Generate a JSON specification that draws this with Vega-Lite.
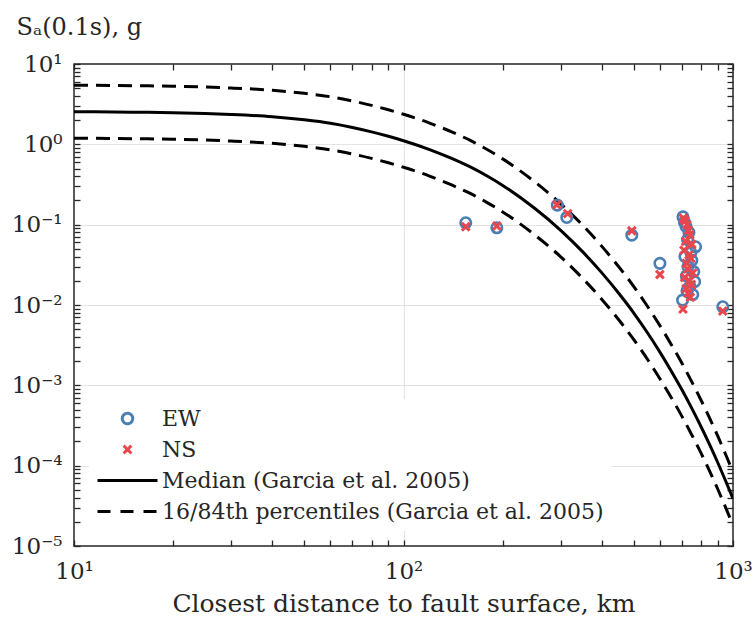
{
  "$schema": "https://vega.github.io/schema/vega-lite/v6.json",
  "width": 659,
  "height": 482,
  "autosize": {"type": "none"},
  "padding": {"left": 74, "top": 64, "right": 21, "bottom": 76},
  "background": "white",
  "config": {
    "view": {"stroke": "#262626", "strokeWidth": 1.5},
    "font": "DejaVu Serif",
    "axis": {"labelFont": "DejaVu Serif", "titleFont": "DejaVu Serif", "labelColor": "#262626", "titleColor": "#262626", "titleFontWeight": "normal", "domain": false, "tickColor": "#262626", "tickWidth": 1.3, "gridColor": "#e3e3e3", "gridWidth": 1.2}
  },
  "datasets": {
    "curves": [
      {"R": 10, "Sa": 2.547, "series": "Median (Garcia et al. 2005)", "curve": "median"},
      {"R": 15, "Sa": 2.515, "series": "Median (Garcia et al. 2005)", "curve": "median"},
      {"R": 20, "Sa": 2.472, "series": "Median (Garcia et al. 2005)", "curve": "median"},
      {"R": 25, "Sa": 2.415, "series": "Median (Garcia et al. 2005)", "curve": "median"},
      {"R": 30, "Sa": 2.35, "series": "Median (Garcia et al. 2005)", "curve": "median"},
      {"R": 40, "Sa": 2.203, "series": "Median (Garcia et al. 2005)", "curve": "median"},
      {"R": 50, "Sa": 2.018, "series": "Median (Garcia et al. 2005)", "curve": "median"},
      {"R": 60, "Sa": 1.828, "series": "Median (Garcia et al. 2005)", "curve": "median"},
      {"R": 70, "Sa": 1.622, "series": "Median (Garcia et al. 2005)", "curve": "median"},
      {"R": 80, "Sa": 1.429, "series": "Median (Garcia et al. 2005)", "curve": "median"},
      {"R": 90, "Sa": 1.259, "series": "Median (Garcia et al. 2005)", "curve": "median"},
      {"R": 100, "Sa": 1.109, "series": "Median (Garcia et al. 2005)", "curve": "median"},
      {"R": 120, "Sa": 0.861, "series": "Median (Garcia et al. 2005)", "curve": "median"},
      {"R": 140, "Sa": 0.668, "series": "Median (Garcia et al. 2005)", "curve": "median"},
      {"R": 160, "Sa": 0.519, "series": "Median (Garcia et al. 2005)", "curve": "median"},
      {"R": 180, "Sa": 0.4, "series": "Median (Garcia et al. 2005)", "curve": "median"},
      {"R": 200, "Sa": 0.308, "series": "Median (Garcia et al. 2005)", "curve": "median"},
      {"R": 250, "Sa": 0.16, "series": "Median (Garcia et al. 2005)", "curve": "median"},
      {"R": 300, "Sa": 0.0851, "series": "Median (Garcia et al. 2005)", "curve": "median"},
      {"R": 350, "Sa": 0.0458, "series": "Median (Garcia et al. 2005)", "curve": "median"},
      {"R": 400, "Sa": 0.0251, "series": "Median (Garcia et al. 2005)", "curve": "median"},
      {"R": 450, "Sa": 0.014, "series": "Median (Garcia et al. 2005)", "curve": "median"},
      {"R": 500, "Sa": 0.00794, "series": "Median (Garcia et al. 2005)", "curve": "median"},
      {"R": 550, "Sa": 0.00451, "series": "Median (Garcia et al. 2005)", "curve": "median"},
      {"R": 600, "Sa": 0.00259, "series": "Median (Garcia et al. 2005)", "curve": "median"},
      {"R": 650, "Sa": 0.0015, "series": "Median (Garcia et al. 2005)", "curve": "median"},
      {"R": 700, "Sa": 0.000879, "series": "Median (Garcia et al. 2005)", "curve": "median"},
      {"R": 750, "Sa": 0.000516, "series": "Median (Garcia et al. 2005)", "curve": "median"},
      {"R": 800, "Sa": 0.000305, "series": "Median (Garcia et al. 2005)", "curve": "median"},
      {"R": 850, "Sa": 0.000181, "series": "Median (Garcia et al. 2005)", "curve": "median"},
      {"R": 900, "Sa": 0.000108, "series": "Median (Garcia et al. 2005)", "curve": "median"},
      {"R": 950, "Sa": 0.0000644, "series": "Median (Garcia et al. 2005)", "curve": "median"},
      {"R": 1000, "Sa": 0.0000389, "series": "Median (Garcia et al. 2005)", "curve": "median"},
      {"R": 10, "Sa": 5.446, "series": "16/84th percentiles (Garcia et al. 2005)", "curve": "p84"},
      {"R": 15, "Sa": 5.377, "series": "16/84th percentiles (Garcia et al. 2005)", "curve": "p84"},
      {"R": 20, "Sa": 5.285, "series": "16/84th percentiles (Garcia et al. 2005)", "curve": "p84"},
      {"R": 25, "Sa": 5.163, "series": "16/84th percentiles (Garcia et al. 2005)", "curve": "p84"},
      {"R": 30, "Sa": 5.024, "series": "16/84th percentiles (Garcia et al. 2005)", "curve": "p84"},
      {"R": 40, "Sa": 4.71, "series": "16/84th percentiles (Garcia et al. 2005)", "curve": "p84"},
      {"R": 50, "Sa": 4.314, "series": "16/84th percentiles (Garcia et al. 2005)", "curve": "p84"},
      {"R": 60, "Sa": 3.908, "series": "16/84th percentiles (Garcia et al. 2005)", "curve": "p84"},
      {"R": 70, "Sa": 3.468, "series": "16/84th percentiles (Garcia et al. 2005)", "curve": "p84"},
      {"R": 80, "Sa": 3.055, "series": "16/84th percentiles (Garcia et al. 2005)", "curve": "p84"},
      {"R": 90, "Sa": 2.692, "series": "16/84th percentiles (Garcia et al. 2005)", "curve": "p84"},
      {"R": 100, "Sa": 2.371, "series": "16/84th percentiles (Garcia et al. 2005)", "curve": "p84"},
      {"R": 120, "Sa": 1.841, "series": "16/84th percentiles (Garcia et al. 2005)", "curve": "p84"},
      {"R": 140, "Sa": 1.428, "series": "16/84th percentiles (Garcia et al. 2005)", "curve": "p84"},
      {"R": 160, "Sa": 1.11, "series": "16/84th percentiles (Garcia et al. 2005)", "curve": "p84"},
      {"R": 180, "Sa": 0.855, "series": "16/84th percentiles (Garcia et al. 2005)", "curve": "p84"},
      {"R": 200, "Sa": 0.659, "series": "16/84th percentiles (Garcia et al. 2005)", "curve": "p84"},
      {"R": 250, "Sa": 0.342, "series": "16/84th percentiles (Garcia et al. 2005)", "curve": "p84"},
      {"R": 300, "Sa": 0.182, "series": "16/84th percentiles (Garcia et al. 2005)", "curve": "p84"},
      {"R": 350, "Sa": 0.0979, "series": "16/84th percentiles (Garcia et al. 2005)", "curve": "p84"},
      {"R": 400, "Sa": 0.0537, "series": "16/84th percentiles (Garcia et al. 2005)", "curve": "p84"},
      {"R": 450, "Sa": 0.0299, "series": "16/84th percentiles (Garcia et al. 2005)", "curve": "p84"},
      {"R": 500, "Sa": 0.01698, "series": "16/84th percentiles (Garcia et al. 2005)", "curve": "p84"},
      {"R": 550, "Sa": 0.00964, "series": "16/84th percentiles (Garcia et al. 2005)", "curve": "p84"},
      {"R": 600, "Sa": 0.00554, "series": "16/84th percentiles (Garcia et al. 2005)", "curve": "p84"},
      {"R": 650, "Sa": 0.00321, "series": "16/84th percentiles (Garcia et al. 2005)", "curve": "p84"},
      {"R": 700, "Sa": 0.001879, "series": "16/84th percentiles (Garcia et al. 2005)", "curve": "p84"},
      {"R": 750, "Sa": 0.001103, "series": "16/84th percentiles (Garcia et al. 2005)", "curve": "p84"},
      {"R": 800, "Sa": 0.000652, "series": "16/84th percentiles (Garcia et al. 2005)", "curve": "p84"},
      {"R": 850, "Sa": 0.000387, "series": "16/84th percentiles (Garcia et al. 2005)", "curve": "p84"},
      {"R": 900, "Sa": 0.000231, "series": "16/84th percentiles (Garcia et al. 2005)", "curve": "p84"},
      {"R": 950, "Sa": 0.0001377, "series": "16/84th percentiles (Garcia et al. 2005)", "curve": "p84"},
      {"R": 1000, "Sa": 0.0000832, "series": "16/84th percentiles (Garcia et al. 2005)", "curve": "p84"},
      {"R": 10, "Sa": 1.191, "series": "16/84th percentiles (Garcia et al. 2005)", "curve": "p16"},
      {"R": 15, "Sa": 1.176, "series": "16/84th percentiles (Garcia et al. 2005)", "curve": "p16"},
      {"R": 20, "Sa": 1.156, "series": "16/84th percentiles (Garcia et al. 2005)", "curve": "p16"},
      {"R": 25, "Sa": 1.13, "series": "16/84th percentiles (Garcia et al. 2005)", "curve": "p16"},
      {"R": 30, "Sa": 1.099, "series": "16/84th percentiles (Garcia et al. 2005)", "curve": "p16"},
      {"R": 40, "Sa": 1.03, "series": "16/84th percentiles (Garcia et al. 2005)", "curve": "p16"},
      {"R": 50, "Sa": 0.944, "series": "16/84th percentiles (Garcia et al. 2005)", "curve": "p16"},
      {"R": 60, "Sa": 0.855, "series": "16/84th percentiles (Garcia et al. 2005)", "curve": "p16"},
      {"R": 70, "Sa": 0.759, "series": "16/84th percentiles (Garcia et al. 2005)", "curve": "p16"},
      {"R": 80, "Sa": 0.668, "series": "16/84th percentiles (Garcia et al. 2005)", "curve": "p16"},
      {"R": 90, "Sa": 0.589, "series": "16/84th percentiles (Garcia et al. 2005)", "curve": "p16"},
      {"R": 100, "Sa": 0.519, "series": "16/84th percentiles (Garcia et al. 2005)", "curve": "p16"},
      {"R": 120, "Sa": 0.403, "series": "16/84th percentiles (Garcia et al. 2005)", "curve": "p16"},
      {"R": 140, "Sa": 0.312, "series": "16/84th percentiles (Garcia et al. 2005)", "curve": "p16"},
      {"R": 160, "Sa": 0.243, "series": "16/84th percentiles (Garcia et al. 2005)", "curve": "p16"},
      {"R": 180, "Sa": 0.187, "series": "16/84th percentiles (Garcia et al. 2005)", "curve": "p16"},
      {"R": 200, "Sa": 0.144, "series": "16/84th percentiles (Garcia et al. 2005)", "curve": "p16"},
      {"R": 250, "Sa": 0.0748, "series": "16/84th percentiles (Garcia et al. 2005)", "curve": "p16"},
      {"R": 300, "Sa": 0.0398, "series": "16/84th percentiles (Garcia et al. 2005)", "curve": "p16"},
      {"R": 350, "Sa": 0.0214, "series": "16/84th percentiles (Garcia et al. 2005)", "curve": "p16"},
      {"R": 400, "Sa": 0.01174, "series": "16/84th percentiles (Garcia et al. 2005)", "curve": "p16"},
      {"R": 450, "Sa": 0.00655, "series": "16/84th percentiles (Garcia et al. 2005)", "curve": "p16"},
      {"R": 500, "Sa": 0.00371, "series": "16/84th percentiles (Garcia et al. 2005)", "curve": "p16"},
      {"R": 550, "Sa": 0.00211, "series": "16/84th percentiles (Garcia et al. 2005)", "curve": "p16"},
      {"R": 600, "Sa": 0.00121, "series": "16/84th percentiles (Garcia et al. 2005)", "curve": "p16"},
      {"R": 650, "Sa": 0.000702, "series": "16/84th percentiles (Garcia et al. 2005)", "curve": "p16"},
      {"R": 700, "Sa": 0.000411, "series": "16/84th percentiles (Garcia et al. 2005)", "curve": "p16"},
      {"R": 750, "Sa": 0.000241, "series": "16/84th percentiles (Garcia et al. 2005)", "curve": "p16"},
      {"R": 800, "Sa": 0.000143, "series": "16/84th percentiles (Garcia et al. 2005)", "curve": "p16"},
      {"R": 850, "Sa": 0.0000847, "series": "16/84th percentiles (Garcia et al. 2005)", "curve": "p16"},
      {"R": 900, "Sa": 0.0000505, "series": "16/84th percentiles (Garcia et al. 2005)", "curve": "p16"},
      {"R": 950, "Sa": 0.0000301, "series": "16/84th percentiles (Garcia et al. 2005)", "curve": "p16"},
      {"R": 1000, "Sa": 0.0000182, "series": "16/84th percentiles (Garcia et al. 2005)", "curve": "p16"}
    ],
    "points": [
      {"R": 154.5, "Sa": 0.1056, "series": "EW"},
      {"R": 192, "Sa": 0.0914, "series": "EW"},
      {"R": 293, "Sa": 0.175, "series": "EW"},
      {"R": 313, "Sa": 0.123, "series": "EW"},
      {"R": 493, "Sa": 0.0741, "series": "EW"},
      {"R": 600, "Sa": 0.033, "series": "EW"},
      {"R": 931, "Sa": 0.0095, "series": "EW"},
      {"R": 705, "Sa": 0.125, "series": "EW"},
      {"R": 712, "Sa": 0.108, "series": "EW"},
      {"R": 720, "Sa": 0.095, "series": "EW"},
      {"R": 735, "Sa": 0.08, "series": "EW"},
      {"R": 770, "Sa": 0.053, "series": "EW"},
      {"R": 728, "Sa": 0.065, "series": "EW"},
      {"R": 745, "Sa": 0.045, "series": "EW"},
      {"R": 715, "Sa": 0.04, "series": "EW"},
      {"R": 750, "Sa": 0.036, "series": "EW"},
      {"R": 730, "Sa": 0.03, "series": "EW"},
      {"R": 760, "Sa": 0.026, "series": "EW"},
      {"R": 722, "Sa": 0.023, "series": "EW"},
      {"R": 765, "Sa": 0.0195, "series": "EW"},
      {"R": 740, "Sa": 0.017, "series": "EW"},
      {"R": 725, "Sa": 0.015, "series": "EW"},
      {"R": 755, "Sa": 0.0135, "series": "EW"},
      {"R": 703, "Sa": 0.0115, "series": "EW"},
      {"R": 154.5, "Sa": 0.0942, "series": "NS"},
      {"R": 192, "Sa": 0.0962, "series": "NS"},
      {"R": 292, "Sa": 0.177, "series": "NS"},
      {"R": 315, "Sa": 0.137, "series": "NS"},
      {"R": 493, "Sa": 0.0839, "series": "NS"},
      {"R": 600, "Sa": 0.024, "series": "NS"},
      {"R": 931, "Sa": 0.0084, "series": "NS"},
      {"R": 707, "Sa": 0.12, "series": "NS"},
      {"R": 716, "Sa": 0.112, "series": "NS"},
      {"R": 725, "Sa": 0.1, "series": "NS"},
      {"R": 732, "Sa": 0.085, "series": "NS"},
      {"R": 740, "Sa": 0.075, "series": "NS"},
      {"R": 718, "Sa": 0.062, "series": "NS"},
      {"R": 750, "Sa": 0.057, "series": "NS"},
      {"R": 710, "Sa": 0.048, "series": "NS"},
      {"R": 735, "Sa": 0.042, "series": "NS"},
      {"R": 745, "Sa": 0.038, "series": "NS"},
      {"R": 722, "Sa": 0.033, "series": "NS"},
      {"R": 728, "Sa": 0.028, "series": "NS"},
      {"R": 755, "Sa": 0.025, "series": "NS"},
      {"R": 713, "Sa": 0.022, "series": "NS"},
      {"R": 738, "Sa": 0.02, "series": "NS"},
      {"R": 748, "Sa": 0.018, "series": "NS"},
      {"R": 720, "Sa": 0.016, "series": "NS"},
      {"R": 730, "Sa": 0.014, "series": "NS"},
      {"R": 742, "Sa": 0.0125, "series": "NS"},
      {"R": 705, "Sa": 0.0089, "series": "NS"}
    ]
  },
  "resolve": {"axis": {"x": "independent", "y": "independent"}},
  "layer": [
    {
      "data": {"name": "curves"},
      "transform": [{"filter": "datum.curve === 'median'"}],
      "mark": {"type": "line", "strokeWidth": 3, "interpolate": "monotone", "clip": true},
      "encoding": {
        "x": {
          "field": "R", "type": "quantitative",
          "scale": {"type": "log", "domain": [10, 1000], "nice": false},
          "axis": {
            "orient": "bottom",
            "offset": -6,
            "values": [10, 20, 30, 40, 50, 60, 70, 80, 90, 100, 200, 300, 400, 500, 600, 700, 800, 900, 1000],
            "labelExpr": "datum.value == 10 ? '10¹' : datum.value == 100 ? '10²' : datum.value == 1000 ? '10³' : ''",
            "labelFontSize": 23, "labelPadding": 14, "labelFlush": false, "labelOverlap": false,
            "tickSize": 6,
            "grid": true,
            "gridOpacity": {"condition": {"test": "datum.value == 100", "value": 1}, "value": 0},
            "title": "Closest distance to fault surface, km",
            "titleFontSize": 25, "titlePadding": 8
          }
        },
        "y": {
          "field": "Sa", "type": "quantitative",
          "scale": {"type": "log", "domain": [0.00001, 10], "nice": false},
          "axis": {
            "orient": "left",
            "offset": -6,
            "values": [0.00001, 0.00002, 0.00003, 0.00004, 0.00005, 0.00006, 0.00007, 0.00008, 0.00009, 0.0001, 0.0002, 0.0003, 0.0004, 0.0005, 0.0006, 0.0007, 0.0008, 0.0009, 0.001, 0.002, 0.003, 0.004, 0.005, 0.006, 0.007, 0.008, 0.009, 0.01, 0.02, 0.03, 0.04, 0.05, 0.06, 0.07, 0.08, 0.09, 0.1, 0.2, 0.3, 0.4, 0.5, 0.6, 0.7, 0.8, 0.9, 1, 2, 3, 4, 5, 6, 7, 8, 9, 10],
            "labelExpr": "datum.value == 10 ? '10¹' : datum.value == 1 ? '10⁰' : datum.value == 0.1 ? '10⁻¹' : datum.value == 0.01 ? '10⁻²' : datum.value == 0.001 ? '10⁻³' : datum.value == 0.0001 ? '10⁻⁴' : datum.value == 0.00001 ? '10⁻⁵' : ''",
            "labelFontSize": 23, "labelPadding": 12, "labelFlush": false, "labelOverlap": false,
            "tickSize": 6,
            "grid": true,
            "gridOpacity": {"condition": {"test": "datum.value == 1 || datum.value == 0.1 || datum.value == 0.01 || datum.value == 0.001 || datum.value == 0.0001", "value": 1}, "value": 0},
            "title": "Sₐ(0.1s), g",
            "titleFontSize": 24, "titleAngle": 0, "titleAlign": "left", "titleBaseline": "alphabetic",
            "titleX": -64, "titleY": -30
          }
        },
        "color": {
          "field": "series", "type": "nominal",
          "scale": {
            "domain": ["EW", "NS", "Median (Garcia et al. 2005)", "16/84th percentiles (Garcia et al. 2005)"],
            "range": ["#4a7fb5", "#e8474d", "#000000", "#000000"]
          },
          "legend": {
            "title": null,
            "orient": "bottom-left",
            "offset": 15,
            "padding": 8,
            "fillColor": "white",
            "labelFont": "DejaVu Serif",
            "labelFontSize": 22,
            "labelColor": "#262626",
            "labelLimit": 700,
            "symbolSize": 400,
            "symbolOffset": 19,
            "labelOffset": 23,
            "rowPadding": 8,
            "symbolStrokeWidth": 3,
            "encode": {
              "symbols": {
                "update": {
                  "shape": {"signal": "datum.value === 'EW' ? 'circle' : datum.value === 'NS' ? 'M-1,-1L1,1M1,-1L-1,1' : 'M-3,0L3,0'"},
                  "size": {"signal": "datum.value === 'EW' ? 110 : datum.value === 'NS' ? 60 : 400"},
                  "stroke": {"signal": "datum.value === 'EW' ? '#4a7fb5' : datum.value === 'NS' ? '#e8474d' : '#000000'"},
                  "fill": {"value": "transparent"},
                  "strokeWidth": {"value": 3},
                  "strokeDash": {"signal": "datum.value === '16/84th percentiles (Garcia et al. 2005)' ? [13, 10] : [1, 0]"},
                  "opacity": {"value": 1}
                }
              }
            }
          }
        }
      }
    },
    {
      "data": {"name": "curves"},
      "transform": [{"filter": "datum.curve !== 'median'"}],
      "mark": {"type": "line", "strokeWidth": 3, "strokeDash": [14, 8], "interpolate": "monotone", "clip": true},
      "encoding": {
        "x": {
          "field": "R", "type": "quantitative",
          "axis": {
            "orient": "top",
            "offset": -6,
            "values": [10, 20, 30, 40, 50, 60, 70, 80, 90, 100, 200, 300, 400, 500, 600, 700, 800, 900, 1000],
            "labels": false, "tickSize": 6, "grid": false, "title": null
          }
        },
        "y": {
          "field": "Sa", "type": "quantitative",
          "axis": {
            "orient": "right",
            "offset": -6,
            "values": [0.00001, 0.00002, 0.00003, 0.00004, 0.00005, 0.00006, 0.00007, 0.00008, 0.00009, 0.0001, 0.0002, 0.0003, 0.0004, 0.0005, 0.0006, 0.0007, 0.0008, 0.0009, 0.001, 0.002, 0.003, 0.004, 0.005, 0.006, 0.007, 0.008, 0.009, 0.01, 0.02, 0.03, 0.04, 0.05, 0.06, 0.07, 0.08, 0.09, 0.1, 0.2, 0.3, 0.4, 0.5, 0.6, 0.7, 0.8, 0.9, 1, 2, 3, 4, 5, 6, 7, 8, 9, 10],
            "labels": false, "tickSize": 6, "grid": false, "title": null
          }
        },
        "color": {"field": "series", "type": "nominal"},
        "detail": {"field": "curve", "type": "nominal"}
      }
    },
    {
      "data": {"name": "points"},
      "transform": [{"filter": "datum.series === 'EW'"}],
      "mark": {"type": "point", "shape": "circle", "size": 110, "strokeWidth": 2.6, "filled": false, "opacity": 1},
      "encoding": {
        "x": {"field": "R", "type": "quantitative", "axis": null},
        "y": {"field": "Sa", "type": "quantitative", "axis": null},
        "color": {"field": "series", "type": "nominal"}
      }
    },
    {
      "data": {"name": "points"},
      "transform": [{"filter": "datum.series === 'NS'"}],
      "mark": {"type": "point", "shape": "M-1,-1L1,1M1,-1L-1,1", "size": 60, "strokeWidth": 3, "filled": false, "opacity": 1},
      "encoding": {
        "x": {"field": "R", "type": "quantitative", "axis": null},
        "y": {"field": "Sa", "type": "quantitative", "axis": null},
        "color": {"field": "series", "type": "nominal"}
      }
    }
  ]
}
